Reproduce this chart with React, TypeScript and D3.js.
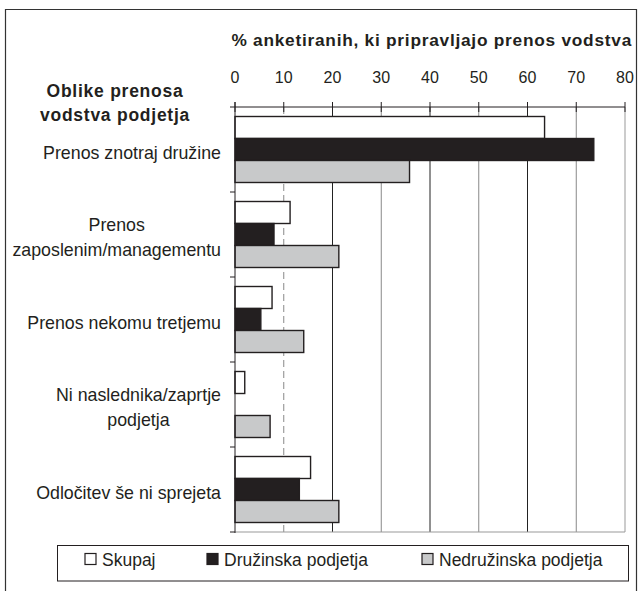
import React, { useEffect, useRef } from "react";
import * as d3 from "d3";

const categories = [
  "Prenos znotraj družine",
  "Prenos\nzaposlenim/managementu",
  "Prenos nekomu tretjemu",
  "Ni naslednika/zaprtje\npodjetja",
  "Odločitev še ni sprejeta",
];
const seriesNames = ["Skupaj", "Družinska podjetja", "Nedružinska podjetja"];
const skupaj = [63.5, 11.3, 7.6, 2.0, 15.5];
const druzinska = [73.6, 8.0, 5.3, 0, 13.2];
const nedruzinska = [35.8, 21.3, 14.1, 7.2, 21.3];
const xTicks = [0, 10, 20, 30, 40, 50, 60, 70, 80];
const axisTitle = "% anketiranih, ki pripravljajo prenos vodstva";
const catTitle = ["Oblike prenosa", "vodstva podjetja"];

const fills = ["#ffffff", "#231f20", "#c8c9ca"];
const FONT = "'Liberation Sans', Arial, sans-serif";

export default function App() {
  const ref = useRef<SVGSVGElement>(null);
  useEffect(() => {
    const svg = d3.select(ref.current);
    svg.selectAll("*").remove();
    const W = 638, H = 591;
    const left = 235, right = 625, top = 107, bottom = 532;
    const x = d3.scaleLinear().domain([0, 80]).range([left, right]);
    const y0 = d3.scaleBand<string>().domain(categories).range([top, bottom]).padding(0);
    const y1 = d3.scaleBand<string>().domain(seriesNames).range([0, y0.bandwidth()]).paddingInner(0).paddingOuter(0.432);
    const data = [skupaj, druzinska, nedruzinska];

    svg.append("rect").attr("width", W).attr("height", H).attr("fill", "#fff");
    // outer frame
    svg.append("path").attr("d", `M5.5,${H + 2}V9.5H636.5V${H + 2}`).attr("fill", "none").attr("stroke", "#333").attr("stroke-width", 1.2);

    const g = svg.append("g");
    // gridlines
    xTicks.filter(t => t >= 20).forEach((t, i) => {
      g.append("line").attr("x1", x(t)).attr("x2", x(t)).attr("y1", top).attr("y2", bottom)
        .attr("stroke", t === 80 ? "#999" : i % 2 === 0 ? "#222" : "#888").attr("stroke-width", 1);
    });
    g.append("line").attr("x1", x(10)).attr("x2", x(10)).attr("y1", top).attr("y2", bottom)
      .attr("stroke", "#888").attr("stroke-width", 1).attr("stroke-dasharray", "7,4");
    // bottom border
    g.append("line").attr("x1", left).attr("x2", right).attr("y1", bottom).attr("y2", bottom).attr("stroke", "#999").attr("stroke-width", 1.2);

    // bars
    categories.forEach((c, ci) => {
      seriesNames.forEach((s, si) => {
        const v = data[si][ci];
        if (v <= 0) return;
        g.append("rect")
          .attr("x", x(0))
          .attr("y", (y0(c) as number) + (y1(s) as number))
          .attr("width", x(v) - x(0))
          .attr("height", y1.bandwidth())
          .attr("fill", fills[si])
          .attr("stroke", "#231f20")
          .attr("stroke-width", 1.4);
      });
    });

    // top axis
    const ax = g.append("g");
    ax.append("line").attr("x1", left).attr("x2", right).attr("y1", top).attr("y2", top).attr("stroke", "#231f20").attr("stroke-width", 1);
    xTicks.forEach(t => {
      ax.append("line").attr("x1", x(t)).attr("x2", x(t)).attr("y1", top - 5).attr("y2", top + 5).attr("stroke", "#231f20");
      ax.append("text").attr("x", x(t)).attr("y", 83).attr("text-anchor", "middle")
        .attr("font-family", FONT).attr("font-size", 16).attr("fill", "#231f20").text(String(t));
    });
    // left axis
    ax.append("line").attr("x1", left).attr("x2", left).attr("y1", top - 5).attr("y2", bottom + 1).attr("stroke", "#231f20");
    const bounds = categories.map(c => y0(c) as number).concat([bottom]);
    bounds.forEach(b => {
      ax.append("line").attr("x1", left - 5).attr("x2", left).attr("y1", b).attr("y2", b).attr("stroke", "#231f20");
    });

    // axis title
    svg.append("text").attr("x", 632).attr("y", 46).attr("text-anchor", "end")
      .attr("font-family", FONT).attr("font-size", 17.3).attr("font-weight", "bold").attr("letter-spacing", 0.75)
      .attr("fill", "#231f20").text(axisTitle);
    // category title
    catTitle.forEach((t, i) => {
      svg.append("text").attr("x", 115).attr("y", 97 + i * 24).attr("text-anchor", "middle")
        .attr("font-family", FONT).attr("font-size", 17.5).attr("font-weight", "bold").attr("letter-spacing", 0.75)
        .attr("fill", "#231f20").text(t);
    });

    // category labels
    const lineH = 25;
    categories.forEach(c => {
      const lines = c.split("\n");
      const cy = (y0(c) as number) + y0.bandwidth() / 2 + 3;
      const gt = svg.append("g");
      const texts = lines.map((l, i) =>
        gt.append("text").attr("y", cy + (i - (lines.length - 1) / 2) * lineH + 6)
          .attr("font-family", FONT).attr("font-size", 17.8).attr("fill", "#231f20")
          .attr("text-anchor", "middle").text(l)
      );
      const widths = texts.map(t => (t.node() as SVGTextElement).getComputedTextLength());
      const maxW = Math.max(...widths);
      const cx = 221 - maxW / 2;
      texts.forEach(t => t.attr("x", cx));
    });

    // legend
    const lg = svg.append("g");
    lg.append("rect").attr("x", 57.5).attr("y", 545.5).attr("width", 571).attr("height", 35.5)
      .attr("fill", "#fff").attr("stroke", "#231f20").attr("stroke-width", 1);
    const lx = [85, 207, 422];
    seriesNames.forEach((s, i) => {
      lg.append("rect").attr("x", lx[i]).attr("y", 553.5).attr("width", 11).attr("height", 11)
        .attr("fill", fills[i]).attr("stroke", "#231f20").attr("stroke-width", 1.2);
      lg.append("text").attr("x", lx[i] + 17).attr("y", 565.5).attr("font-family", FONT)
        .attr("font-size", 17.5).attr("fill", "#231f20").text(s);
    });
  }, []);
  return <svg ref={ref} width={638} height={591} style={{ display: "block", position: "absolute", left: 0, top: 0 }} />;
}
